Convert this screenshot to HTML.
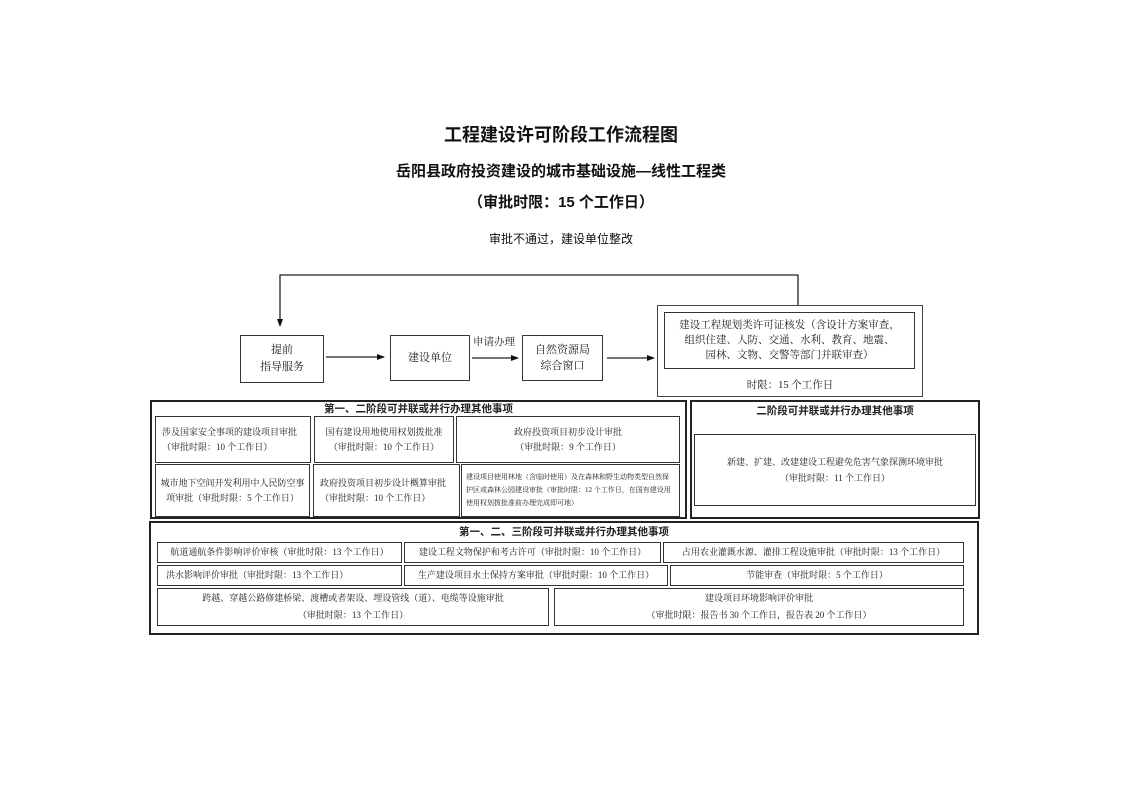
<!DOCTYPE html>
<html><head><meta charset="utf-8"><style>
body{margin:0;background:#fff;width:1122px;height:793px;position:relative;overflow:hidden;font-family:"Liberation Serif","Noto Serif CJK SC",serif;color:#222}
.a{position:absolute}
.b{position:absolute;border:1px solid #333;box-sizing:border-box;display:flex;align-items:center;justify-content:center;text-align:center;font-size:9px;line-height:15px}
.t{position:absolute;left:0;width:1122px;text-align:center;font-family:"Liberation Sans","Noto Sans CJK SC",sans-serif;font-weight:bold;color:#111}
.h{position:absolute;text-align:center;font-family:"Liberation Sans","Noto Sans CJK SC",sans-serif;font-weight:bold;font-size:10.5px;line-height:12px}
.sec{position:absolute;border:2px solid #222;box-sizing:border-box}
</style></head><body>
<div class="t" style="top:121px;font-size:18px">工程建设许可阶段工作流程图</div>
<div class="t" style="top:160px;font-size:15px">岳阳县政府投资建设的城市基础设施—线性工程类</div>
<div class="t" style="top:191px;font-size:15px">（审批时限：15 个工作日）</div>
<div class="t" style="top:230px;font-size:12px;font-weight:normal">审批不通过，建设单位整改</div>
<svg class="a" style="left:0;top:0" width="1122" height="793">
<defs><marker id="m" markerWidth="8" markerHeight="8" refX="7" refY="4" orient="auto" markerUnits="userSpaceOnUse"><path d="M0,1 L8,4 L0,7z" fill="#111"/></marker></defs>
<g stroke="#222" stroke-width="1.3" fill="none">
<polyline points="798,305 798,275 280,275 280,326" marker-end="url(#m)"/>
<line x1="326" y1="357" x2="384" y2="357" marker-end="url(#m)"/>
<line x1="472" y1="358" x2="518" y2="358" marker-end="url(#m)"/>
<line x1="607" y1="358" x2="654" y2="358" marker-end="url(#m)"/>
</g></svg>
<div class="b" style="left:240px;top:335px;width:84px;height:48px;font-size:11px;line-height:17px;border-width:1.5px">提前<br>指导服务</div>
<div class="b" style="left:390px;top:335px;width:80px;height:46px;font-size:11px;border-width:1.5px">建设单位</div>
<div class="a" style="left:473px;top:334px;font-size:10.5px">申请办理</div>
<div class="b" style="left:522px;top:335px;width:81px;height:46px;font-size:11px;line-height:16px;border-width:1.5px">自然资源局<br>综合窗口</div>
<div class="a" style="left:657px;top:305px;width:266px;height:92px;border:1px solid #444;box-sizing:border-box"></div>
<div class="b" style="left:664px;top:312px;width:251px;height:57px;font-size:10.5px;line-height:15px">建设工程规划类许可证核发（含设计方案审查，<br>组织住建、人防、交通、水利、教育、地震、<br>园林、文物、交警等部门并联审查）</div>
<div class="a" style="left:657px;top:377px;width:266px;text-align:center;font-size:10.5px">时限：15 个工作日</div>

<div class="sec" style="left:150px;top:400px;width:537px;height:119px"></div>
<div class="h" style="left:150px;top:403px;width:537px">第一、二阶段可并联或并行办理其他事项</div>
<div class="b" style="left:155px;top:416px;width:156px;height:47px;text-align:left;justify-content:flex-start;padding:0 6px">涉及国家安全事项的建设项目审批（审批时限：10 个工作日）</div>
<div class="b" style="left:314px;top:416px;width:140px;height:47px;padding:0 6px">国有建设用地使用权划拨批准（审批时限：10 个工作日）</div>
<div class="b" style="left:456px;top:416px;width:224px;height:47px">政府投资项目初步设计审批<br>（审批时限：9 个工作日）</div>
<div class="b" style="left:155px;top:464px;width:155px;height:53px;padding:0 4px">城市地下空间开发利用中人民防空事项审批（审批时限：5 个工作日）</div>
<div class="b" style="left:313px;top:464px;width:147px;height:53px;padding:0 6px;text-align:left">政府投资项目初步设计概算审批 （审批时限：10 个工作日）</div>
<div class="b" style="left:461px;top:464px;width:219px;height:53px;font-size:7px;line-height:13px;padding:0 4px;text-align:left">建设项目使用林地（含临时使用）及在森林和野生动物类型自然保护区或森林公园建设审批（审批时限：12 个工作日，在国有建设用使用权划拨批准前办理完成即可地）</div>

<div class="sec" style="left:690px;top:400px;width:290px;height:119px"></div>
<div class="h" style="left:690px;top:405px;width:290px">二阶段可并联或并行办理其他事项</div>
<div class="b" style="left:694px;top:434px;width:282px;height:72px;line-height:16px">新建、扩建、改建建设工程避免危害气象探测环境审批<br>（审批时限：11 个工作日）</div>

<div class="sec" style="left:149px;top:521px;width:830px;height:114px"></div>
<div class="h" style="left:149px;top:526px;width:830px">第一、二、三阶段可并联或并行办理其他事项</div>
<div class="b" style="left:157px;top:542px;width:245px;height:21px">航道通航条件影响评价审核（审批时限：13 个工作日）</div>
<div class="b" style="left:404px;top:542px;width:257px;height:21px">建设工程文物保护和考古许可（审批时限：10 个工作日）</div>
<div class="b" style="left:663px;top:542px;width:301px;height:21px">占用农业灌溉水源、灌排工程设施审批（审批时限：13 个工作日）</div>
<div class="b" style="left:157px;top:565px;width:245px;height:21px;justify-content:flex-start;padding-left:8px">洪水影响评价审批（审批时限：13 个工作日）</div>
<div class="b" style="left:404px;top:565px;width:264px;height:21px">生产建设项目水土保持方案审批（审批时限：10 个工作日）</div>
<div class="b" style="left:670px;top:565px;width:294px;height:21px">节能审查（审批时限：5 个工作日）</div>
<div class="b" style="left:157px;top:588px;width:392px;height:38px;line-height:17px">跨越、穿越公路修建桥梁、渡槽或者架设、埋设管线（道）、电缆等设施审批<br>（审批时限：13 个工作日）</div>
<div class="b" style="left:554px;top:588px;width:410px;height:38px;line-height:17px">建设项目环境影响评价审批<br>（审批时限：报告书 30 个工作日，报告表 20 个工作日）</div>
</body></html>
